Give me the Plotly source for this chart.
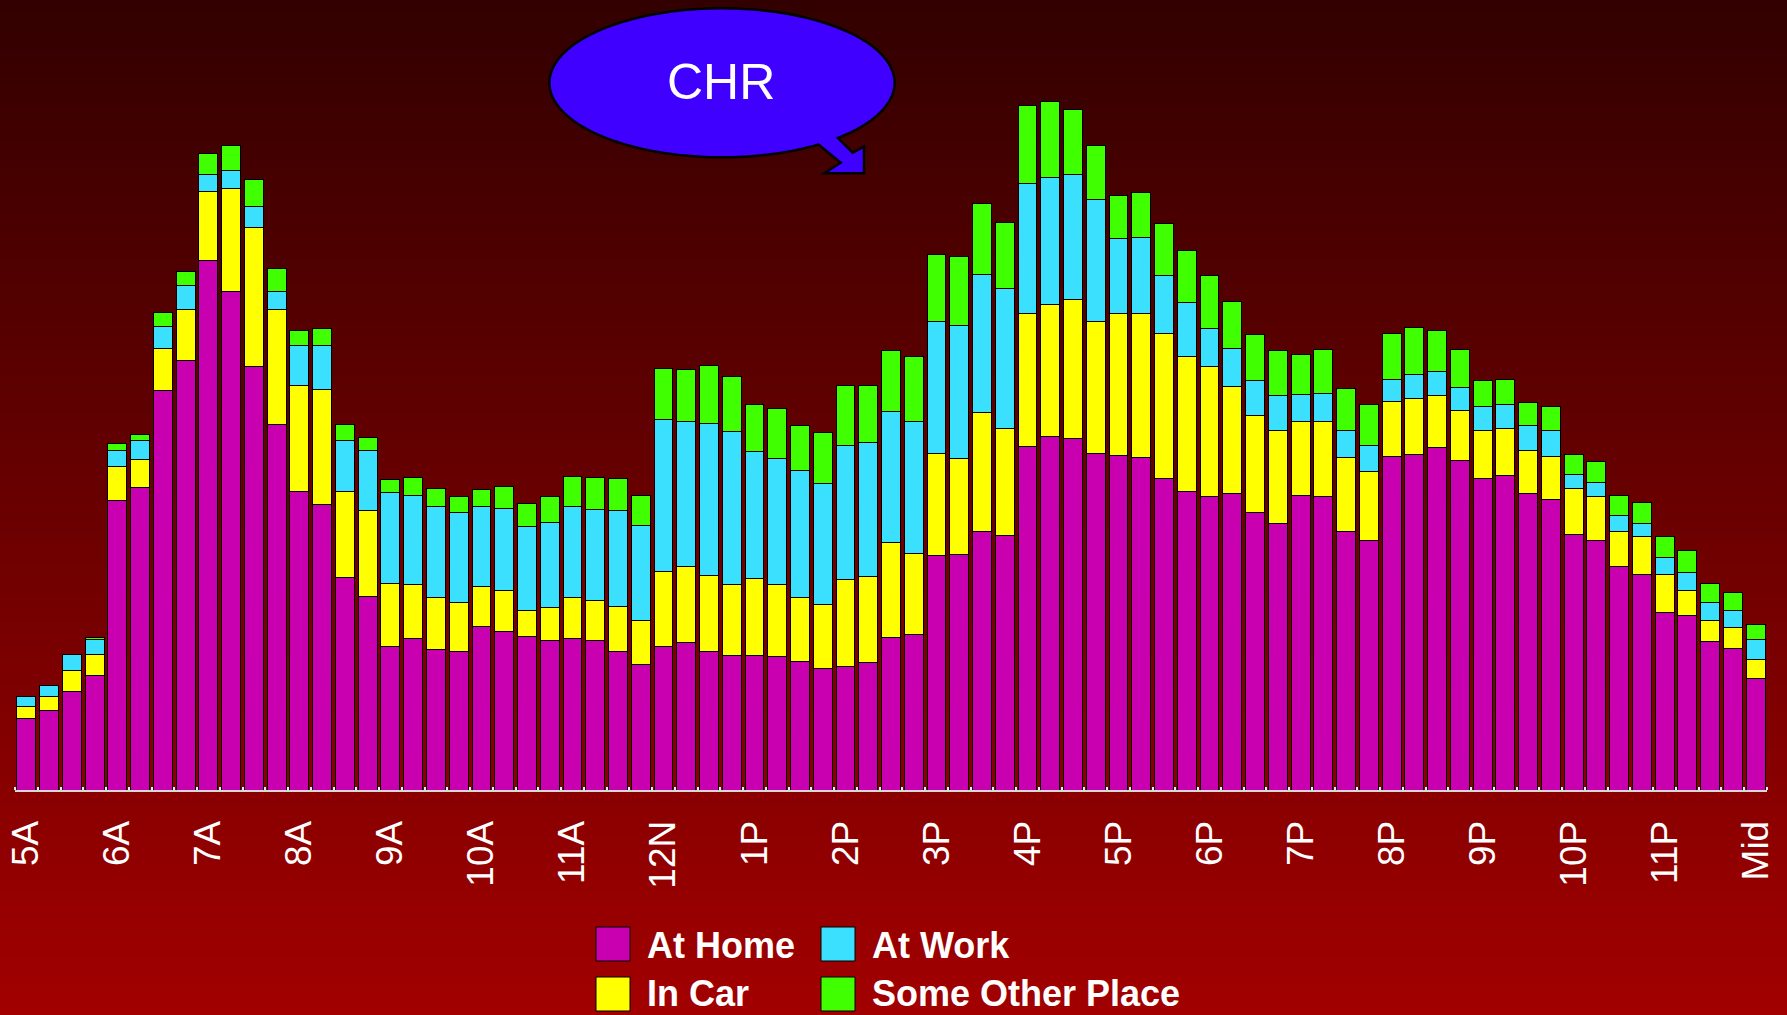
import base64
import math
import struct
import zlib

import numpy as np
import plotly.graph_objects as go

# ---------------------------------------------------------------------------
# Data: people by location, in 15-minute slots from 5:00 AM to midnight
# ---------------------------------------------------------------------------
slots = [f"{h}:{m:02d}" for h in range(5, 24) for m in (0, 15, 30, 45)] + ["24:00"]

hour_labels = ["5A", "6A", "7A", "8A", "9A", "10A", "11A", "12N", "1P", "2P",
               "3P", "4P", "5P", "6P", "7P", "8P", "9P", "10P", "11P", "Mid"]

at_home = [72.0, 79.8, 98.4, 114.5, 289.7, 302.3, 399.4, 429.3, 529.1, 498.7,
           423.2, 366.0, 298.8, 285.8, 212.1, 193.4, 143.1, 151.3, 140.1, 138.3,
           163.1, 158.3, 153.5, 149.2, 151.3, 149.2, 138.3, 125.3, 143.1, 147.9,
           138.3, 134.9, 134.4, 133.6, 128.8, 121.9, 123.2, 127.5, 152.6, 156.0,
           234.6, 236.0, 259.0, 254.8, 343.4, 354.0, 351.2, 336.1, 334.3, 332.9,
           311.3, 298.9, 293.8, 296.1, 277.8, 266.8, 294.8, 293.4, 259.0, 249.3,
           333.8, 335.6, 343.0, 329.7, 311.8, 315.0, 296.6, 290.6, 255.7, 249.3,
           223.1, 215.8, 177.7, 174.9, 148.8, 141.4, 111.1]

in_car = [11.7, 13.9, 20.8, 21.2, 34.3, 28.6, 42.5, 51.2, 69.8, 103.2,
          139.2, 114.5, 106.2, 114.5, 86.3, 86.3, 63.7, 54.2, 52.0, 49.0,
          40.3, 40.8, 26.0, 33.4, 41.2, 39.9, 45.5, 43.8, 75.9, 75.5,
          76.3, 71.1, 77.6, 72.4, 63.7, 63.7, 87.2, 85.9, 95.0, 81.0,
          101.5, 96.0, 118.9, 107.0, 133.1, 131.3, 139.1, 132.7, 142.3, 143.7,
          145.5, 135.0, 129.5, 107.4, 96.9, 92.3, 73.5, 75.3, 73.5, 69.3,
          54.6, 56.0, 51.9, 50.0, 47.3, 46.8, 42.7, 42.7, 45.5, 44.1,
          35.8, 37.6, 37.6, 24.3, 20.7, 20.7, 19.3]

at_work = [10.0, 10.4, 16.5, 14.7, 16.0, 18.2, 21.7, 23.9, 16.9, 17.3,
           20.8, 18.2, 39.5, 43.8, 51.6, 59.4, 91.1, 88.9, 91.9, 89.8,
           80.2, 82.4, 84.1, 85.4, 91.1, 91.9, 95.4, 95.4, 151.3, 145.3,
           151.8, 152.6, 126.2, 125.3, 126.6, 121.4, 134.0, 134.0, 131.0, 131.2,
           132.2, 132.7, 137.3, 140.0, 129.9, 127.2, 125.3, 121.7, 74.8, 76.2,
           57.4, 53.7, 38.6, 38.1, 34.9, 35.4, 27.5, 28.0, 27.5, 25.7,
           22.0, 24.3, 23.4, 22.5, 24.3, 23.9, 25.3, 26.6, 14.2, 14.2,
           15.6, 12.9, 17.4, 18.8, 18.4, 17.0, 20.2]

other_place = [0.0, 0.0, 0.0, 2.6, 6.1, 6.9, 14.3, 14.3, 20.8, 25.2,
               27.3, 23.0, 15.2, 17.3, 15.6, 13.9, 13.0, 17.8, 17.3, 16.5,
               16.9, 21.7, 22.5, 25.2, 29.9, 31.7, 32.1, 29.9, 51.6, 51.6,
               58.5, 55.1, 47.3, 50.3, 45.5, 50.7, 60.3, 57.2, 60.7, 65.1,
               67.0, 69.3, 71.2, 66.1, 78.5, 76.2, 64.7, 53.7, 43.6, 44.5,
               52.3, 52.3, 52.8, 46.8, 45.5, 45.0, 39.5, 44.1, 41.3, 41.3,
               46.4, 46.8, 41.3, 38.6, 26.2, 25.3, 23.4, 23.4, 19.7, 20.7,
               20.2, 21.1, 20.7, 21.1, 18.4, 18.8, 15.2]

series = [
    ("At Home", at_home, "#C800AF"),
    ("In Car", in_car, "#FFFF00"),
    ("At Work", at_work, "#3CE0FF"),
    ("Some Other Place", other_place, "#40FF00"),
]

# ---------------------------------------------------------------------------
# Page geometry
# ---------------------------------------------------------------------------
W, H = 1787, 1015
ML, MR, MT, MB = 15, 20, 90, 225
PW, PH = W - ML - MR, H - MT - MB
Y_MAX = 700.0

FONT = "Liberation Sans, Arial, Helvetica, sans-serif"


def px_x(px):
    """Page pixel x -> paper coordinate."""
    return (px - ML) / PW


def px_y(py):
    """Page pixel y (from top) -> paper coordinate."""
    return (H - MB - py) / PH


def gradient_png(height, top, bottom, width=4):
    """Vertical gradient as a PNG data URI."""
    raw = bytearray()
    for i in range(height):
        f = i / (height - 1)
        rgb = [round(a + (b - a) * f) for a, b in zip(top, bottom)]
        raw.append(0)
        raw.extend(rgb * width)

    def chunk(tag, data):
        return (struct.pack(">I", len(data)) + tag + data
                + struct.pack(">I", zlib.crc32(tag + data) & 0xFFFFFFFF))

    png = (b"\x89PNG\r\n\x1a\n"
           + chunk(b"IHDR", struct.pack(">IIBBBBB", width, height, 8, 2, 0, 0, 0))
           + chunk(b"IDAT", zlib.compress(bytes(raw)))
           + chunk(b"IEND", b""))
    return "data:image/png;base64," + base64.b64encode(png).decode()


x = np.arange(len(slots))

fig = go.Figure()
for name, values, color in series:
    fig.add_trace(go.Bar(
        x=x, y=values, name=name, text=slots,
        hovertemplate="%{text}: %{y}<extra>" + name + "</extra>",
        textposition="none",
        marker=dict(color=color, line=dict(color="black", width=1)),
        showlegend=False,
    ))

# ---------------------------------------------------------------------------
# Callout bubble with arrow tail
# ---------------------------------------------------------------------------
cx, cy, rx, ry = 722.0, 82.8, 172.6, 74.5
left_join = (819.3, 145.0)
right_join = (840.7, 139.3)
tail = [(852.7, 152.7), (864.0, 146.7), (864.0, 173.3),
        (824.3, 173.3), (840.7, 162.7)]

t_start = math.atan2((left_join[1] - cy) / ry, (left_join[0] - cx) / rx)
t_end = math.atan2((right_join[1] - cy) / ry, (right_join[0] - cx) / rx) + 2 * math.pi
pts = [(cx + rx * math.cos(t), cy + ry * math.sin(t))
       for t in np.linspace(t_start, t_end, 160)]
pts += tail
path = "M " + " L ".join(f"{px_x(a):.5f},{px_y(b):.5f}" for a, b in pts) + " Z"

shapes = [dict(type="path", xref="paper", yref="paper", path=path,
               fillcolor="#4000FF", line=dict(color="black", width=2.5),
               layer="above")]

annotations = [dict(text="CHR", xref="paper", yref="paper",
                    x=px_x(720.5), y=px_y(82.0), xanchor="center", yanchor="middle",
                    showarrow=False, font=dict(family=FONT, size=50, color="white"))]

# ---------------------------------------------------------------------------
# Legend (two columns, two rows)
# ---------------------------------------------------------------------------
legend_cells = [("At Home", "#C800AF", 596, 927, 945), ("At Work", "#3CE0FF", 821, 927, 945),
                ("In Car", "#FFFF00", 596, 977, 993), ("Some Other Place", "#40FF00", 821, 977, 993)]
SW = 34
for label, color, sx, sy, ty in legend_cells:
    shapes.append(dict(type="rect", xref="paper", yref="paper",
                       x0=px_x(sx), x1=px_x(sx + SW), y0=px_y(sy + SW), y1=px_y(sy),
                       fillcolor=color, line=dict(color="black", width=1)))
    annotations.append(dict(text=f"<b>{label}</b>", xref="paper", yref="paper",
                            x=px_x(sx + 49), y=px_y(ty),
                            xanchor="left", yanchor="middle", showarrow=False,
                            font=dict(family=FONT, size=36, color="white")))

fig.update_layout(
    width=W, height=H,
    margin=dict(l=ML, r=MR, t=MT, b=MB, pad=0, autoexpand=False),
    barmode="stack", bargap=0.17,
    paper_bgcolor="#6A0000", plot_bgcolor="rgba(0,0,0,0)",
    showlegend=False,
    font=dict(family=FONT, color="white"),
    images=[dict(source=gradient_png(H, (50, 0, 0), (162, 0, 0)),
                 xref="paper", yref="paper", x=px_x(-10), y=px_y(0),
                 sizex=(W + 20) / PW, sizey=H / PH, xanchor="left", yanchor="top",
                 sizing="stretch", layer="below")],
    shapes=shapes,
    annotations=annotations,
    xaxis=dict(
        range=[-0.5, len(slots) - 0.5], automargin=False,
        tickmode="array", tickvals=list(range(0, len(slots), 4)), ticktext=hour_labels,
        tickangle=-90, tickfont=dict(family=FONT, size=37, color="white"),
        ticks="", ticklabelstandoff=14,
        showline=True, linecolor="#D8D8D8", linewidth=2,
        showgrid=False, zeroline=False, fixedrange=True,
        minor=dict(tickmode="array", tickvals=[i + 0.5 for i in range(-1, len(slots))],
                   ticks="inside", ticklen=3, tickwidth=2, tickcolor="#F0F0F0",
                   showgrid=False),
    ),
    yaxis=dict(range=[0, Y_MAX], visible=False, fixedrange=True, automargin=False),
)

fig.write_html("out.html")
